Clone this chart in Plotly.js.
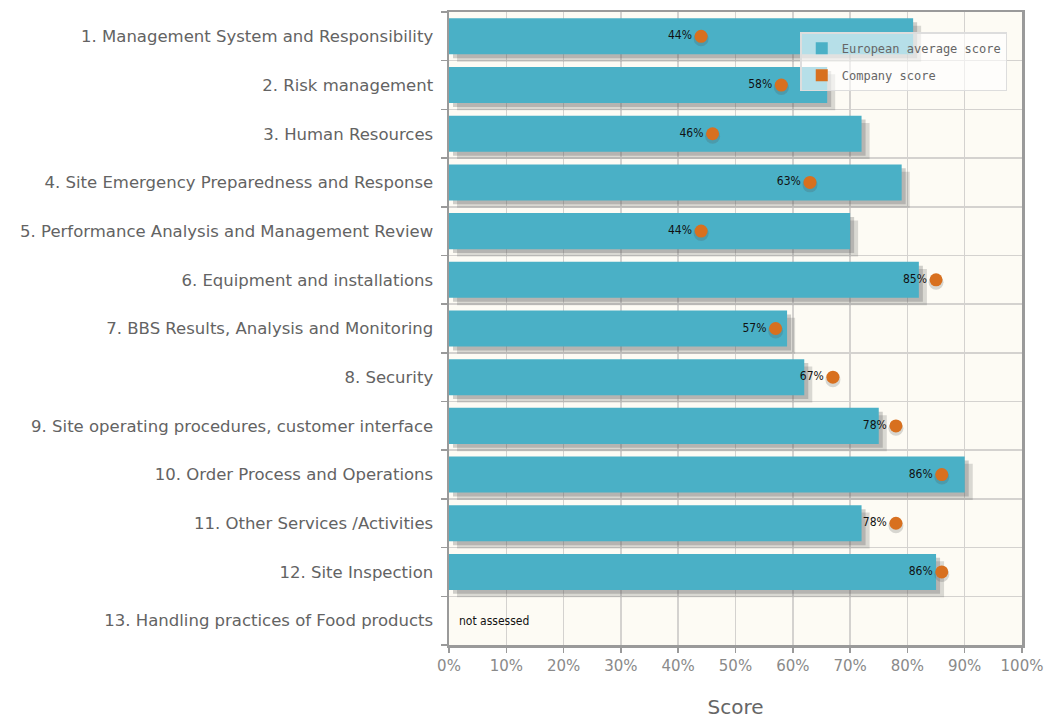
<!DOCTYPE html>
<html>
<head>
<meta charset="utf-8">
<script src="https://cdn.plot.ly/plotly-3.0.1.min.js"></script>
<style>html,body{margin:0;padding:0;background:#fff;}#chart{width:1047px;height:720px;}</style>
</head>
<body>
<div id="chart"></div>
<script>
const categories = [
  "1. Management System and Responsibility",
  "2. Risk management",
  "3. Human Resources",
  "4. Site Emergency Preparedness and Response",
  "5. Performance Analysis and Management Review",
  "6. Equipment and installations",
  "7. BBS Results, Analysis and Monitoring",
  "8. Security",
  "9. Site operating procedures, customer interface",
  "10. Order Process and Operations",
  "11. Other Services /Activities",
  "12. Site Inspection",
  "13. Handling practices of Food products"
];
const europeanAverage = [81, 66, 72, 79, 70, 82, 59, 62, 75, 90, 72, 85, null];
const companyScore = [44, 58, 46, 63, 44, 85, 57, 67, 78, 86, 78, 86, null];
const notes = ["", "", "", "", "", "", "", "", "", "", "", "", "not assessed"];
const xTickVals = [0, 10, 20, 30, 40, 50, 60, 70, 80, 90, 100];
const xTickLabels = ["0%", "10%", "20%", "30%", "40%", "50%", "60%", "70%", "80%", "90%", "100%"];

const rowIdx = categories.map((c, i) => i);
const BAR_COLOR = "#4ab0c6";
const DOT_COLOR = "#d8701f";

const shadow1 = {
  type: "bar", orientation: "h", x: europeanAverage, y: rowIdx,
  base: 1.4, width: 0.74, offset: -0.22,
  marker: {color: "rgba(90,90,90,0.22)", line: {width: 0}},
  hoverinfo: "skip", showlegend: false
};
const shadow2 = {
  type: "bar", orientation: "h", x: europeanAverage, y: rowIdx,
  base: 0.7, width: 0.74, offset: -0.29,
  marker: {color: "rgba(90,90,90,0.28)", line: {width: 0}},
  hoverinfo: "skip", showlegend: false
};
const bars = {
  type: "bar", orientation: "h", x: europeanAverage, y: rowIdx,
  width: 0.74, name: "European average score", legendgroup: "a",
  marker: {color: BAR_COLOR, line: {width: 0}}
};
const dotShadow = {
  type: "scatter", mode: "markers", x: companyScore, y: rowIdx.map(v => v + 0.05),
  marker: {color: "rgba(80,80,80,0.22)", size: 15},
  hoverinfo: "skip", showlegend: false
};
const dots = {
  type: "scatter", mode: "markers+text", x: companyScore, y: rowIdx,
  text: companyScore.map(v => v == null ? "" : v + "%"),
  textposition: "middle left",
  textfont: {family: "DejaVu Sans Condensed, DejaVu Sans, sans-serif", size: 12, color: "#111"},
  marker: {color: DOT_COLOR, size: 13},
  name: "Company score", showlegend: false
};
const legendDot = {
  type: "bar", orientation: "h", x: [null], y: [null], legendgroup: "b",
  name: "Company score", marker: {color: DOT_COLOR}
};

const annotations = notes.map((t, i) => t ? {
  x: 0, y: i, xref: "x", yref: "y", text: t, showarrow: false,
  xanchor: "left", xshift: 8, yshift: 0,
  font: {family: "DejaVu Sans Condensed, DejaVu Sans, sans-serif", size: 12, color: "#111"}
} : null).filter(a => a);

const layout = {
  width: 1047, height: 720,
  margin: {l: 449, r: 25, t: 12, b: 75},
  paper_bgcolor: "#ffffff",
  plot_bgcolor: "#fdfbf4",
  barmode: "overlay",
  showlegend: true,
  legend: {
    x: 0.613, y: 0.968, xanchor: "left", yanchor: "top",
    bgcolor: "rgba(255,255,255,0.6)", bordercolor: "#dddddd", borderwidth: 1.5,
    font: {family: "DejaVu Sans Mono, monospace", size: 12, color: "#666"},
    traceorder: "grouped", tracegroupgap: 8, itemwidth: 30
  },
  xaxis: {
    range: [0, 100], tickvals: xTickVals, ticktext: xTickLabels,
    showgrid: true, gridcolor: "#d4d2cf", gridwidth: 1.5,
    showline: true, mirror: true, linecolor: "#9a9a9a", linewidth: 2.5,
    ticks: "outside", ticklen: 5, tickcolor: "#9a9a9a", tickwidth: 1.5,
    zeroline: false,
    tickfont: {family: "DejaVu Sans, sans-serif", size: 15, color: "#8a8a8a"},
    title: {text: "Score", font: {family: "DejaVu Sans, sans-serif", size: 20, color: "#666"}, standoff: 27}
  },
  yaxis: {
    range: [12.5, -0.5], tickvals: rowIdx, ticktext: categories,
    showgrid: false, zeroline: false,
    showline: true, mirror: true, linecolor: "#9a9a9a", linewidth: 2.5,
    ticks: "", ticklen: 0,
    minor: {tick0: 0.5, dtick: 1, showgrid: true, gridcolor: "#d4d2cf", gridwidth: 1.5,
            ticks: "outside", ticklen: 6, tickcolor: "#9a9a9a", tickwidth: 1.5},
    tickfont: {family: "DejaVu Sans, sans-serif", size: 16.5, color: "#636363"},
    ticklabelstandoff: 10
  },
  annotations: annotations
};

Plotly.newPlot("chart", [shadow2, shadow1, bars, dotShadow, dots, legendDot], layout, {displayModeBar: false, staticPlot: true});
</script>
</body>
</html>
